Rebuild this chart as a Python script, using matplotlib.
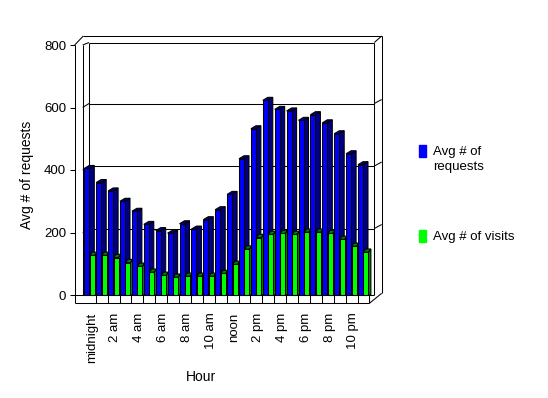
import matplotlib
matplotlib.use('Agg')
import matplotlib.pyplot as plt
from matplotlib.patches import Polygon, Rectangle
import numpy as np

plt.rcParams['font.family'] = ['Liberation Sans', 'DejaVu Sans']
plt.rcParams['font.size'] = 9.5

# ---------------- data ----------------
hours = ['midnight', '1 am', '2 am', '3 am', '4 am', '5 am', '6 am', '7 am', '8 am',
         '9 am', '10 am', '11 am', 'noon', '1 pm', '2 pm', '3 pm', '4 pm', '5 pm',
         '6 pm', '7 pm', '8 pm', '9 pm', '10 pm', '11 pm']
tick_labels = ['midnight', '2 am', '4 am', '6 am', '8 am', '10 am', 'noon',
               '2 pm', '4 pm', '6 pm', '8 pm', '10 pm']
requests = [405, 360, 333, 300, 268, 226, 206, 198, 228, 211, 241, 273,
            322, 436, 532, 623, 594, 589, 559, 577, 551, 516, 452, 417]
visits = [127, 127, 120, 104, 92, 73, 63, 57, 60, 60, 60, 69,
          98, 147, 184, 194, 197, 194, 201, 201, 197, 178, 156, 137]
y_ticks = [0, 200, 400, 600, 800]

BLUE, BLUE_D = '#0000ff', '#000080'
GREEN, GREEN_D = '#00ff00', '#008000'
LW = 0.75

# ---------------- geometry (pixels) ----------------
W, H = 548, 398
SX, X0 = 11.9, 84.3      # px per slot, px of slot 0
SY, Y0 = 0.3125, 295.0   # px per value unit, px of value 0
L, R, T, B = 74.7, 381.7, 36.0, 303.3

def px2x(p):
    return (p - X0) / SX

def px2v(p):
    return (Y0 - p) / SY

fig = plt.figure(figsize=(W / 100, H / 100), dpi=100)
ax = fig.add_axes([L / W, 1 - B / H, (R - L) / W, (B - T) / H])
ax.set_xlim(px2x(L), px2x(R))
ax.set_ylim(px2v(B), px2v(T))
for s in ax.spines.values():
    s.set_visible(False)
ax.patch.set_visible(False)

def line(xs, ys, z=1, lw=LW):
    ax.plot([px2x(v) for v in xs], [px2v(v) for v in ys], color='black',
            lw=lw, zorder=z, clip_on=False, solid_capstyle='butt')

# back wall / frame
BW_L, BW_R, BW_T = 89.0, 374.3, 42.5
line([BW_L, BW_R], [BW_T, BW_T])
line([BW_L, BW_L], [BW_T, Y0])
line([BW_R, BW_R], [BW_T, Y0])
line([83.3, R], [T, T])
line([R, R], [T, 293.3])
line([BW_R, R], [BW_T, T])
line([L, 83.3], [45, T])
line([82.7, 82.7], [45, Y0])
line([82.7, BW_L], [45, BW_T])
# gridlines
for v in y_ticks[1:4]:
    yf = Y0 - v * SY
    yb = yf - 4
    line([82.7, BW_L], [yf, yb])
    line([BW_L, BW_R], [yb, yb])
    line([BW_R, R], [yb, yb - 4])
# floor
line([L, BW_R], [Y0, Y0], z=50)
xs_end = [95.7 + SX * k for k in range(24)]
line([L, xs_end[-1]], [B, B], z=50)
for xe in xs_end:
    line([xe, xe], [Y0, B], z=50)
line([xs_end[-1], R], [B, 293.3], z=50)
line([L, L], [45, B], z=50)

# ---------------- bars ----------------
x = np.arange(len(hours))
bw, bdx, bdy = 5 / SX, 5 / SX, 3 / SY
gw, goff, gdx, gdy = 5 / SX, 5.4 / SX, 2.5 / SX, 3.2 / SY

bb = ax.bar(x, requests, width=bw, align='edge', color=BLUE, edgecolor='black', lw=LW)
gb = ax.bar(x + goff, visits, width=gw, align='edge', color=GREEN, edgecolor='black', lw=LW)

def faces(x0, w, v, dx, dy, dark, z):
    top = Polygon([(x0, v), (x0 + w, v), (x0 + w + dx, v + dy), (x0 + dx, v + dy)],
                  closed=True, fc=dark, ec='black', lw=LW, zorder=z, clip_on=False)
    side = Polygon([(x0 + w, 0), (x0 + w + dx, 0), (x0 + w + dx, v + dy), (x0 + w, v)],
                   closed=True, fc=dark, ec='black', lw=LW, zorder=z, clip_on=False)
    ax.add_patch(side)
    ax.add_patch(top)

for i in range(len(hours)):
    z = 3 + i * 0.1
    faces(x[i], bw, requests[i], bdx, bdy, BLUE_D, z)
    bb.patches[i].set_zorder(z + 0.01)
    faces(x[i] + goff, gw, visits[i], gdx, gdy, GREEN_D, z + 0.02)
    gb.patches[i].set_zorder(z + 0.03)
    bb.patches[i].set_clip_on(False)
    gb.patches[i].set_clip_on(False)

# ---------------- axes text ----------------
ax.set_yticks(y_ticks)
ax.tick_params(axis='y', length=3.6, width=LW, pad=2.5, labelsize=9.5)
ax.set_xticks(np.arange(0, 24, 2) + 0.62)
ax.set_xticklabels(tick_labels, rotation=90)
ax.tick_params(axis='x', length=0, pad=6.5, labelsize=9.5)

fig.text(27 / W, 1 - 175 / H, 'Avg # of requests', rotation=90, ha='center', va='center',
         fontsize=10)
fig.text(201 / W, 1 - 377 / H, 'Hour', ha='center', va='center', fontsize=10)

# legend
fig.add_artist(Rectangle((419 / W, 1 - 156.7 / H), 6.7 / W, 11.7 / H,
                         transform=fig.transFigure, color=BLUE))
fig.add_artist(Rectangle((419 / W, 1 - 241.7 / H), 6.7 / W, 11.7 / H,
                         transform=fig.transFigure, color=GREEN))
fig.text(433 / W, 1 - 151.7 / H, 'Avg # of', va='center', ha='left')
fig.text(433 / W, 1 - 167 / H, 'requests', va='center', ha='left')
fig.text(433 / W, 1 - 236.7 / H, 'Avg # of visits', va='center', ha='left')

fig.savefig('out.png', dpi=100, facecolor='white')
